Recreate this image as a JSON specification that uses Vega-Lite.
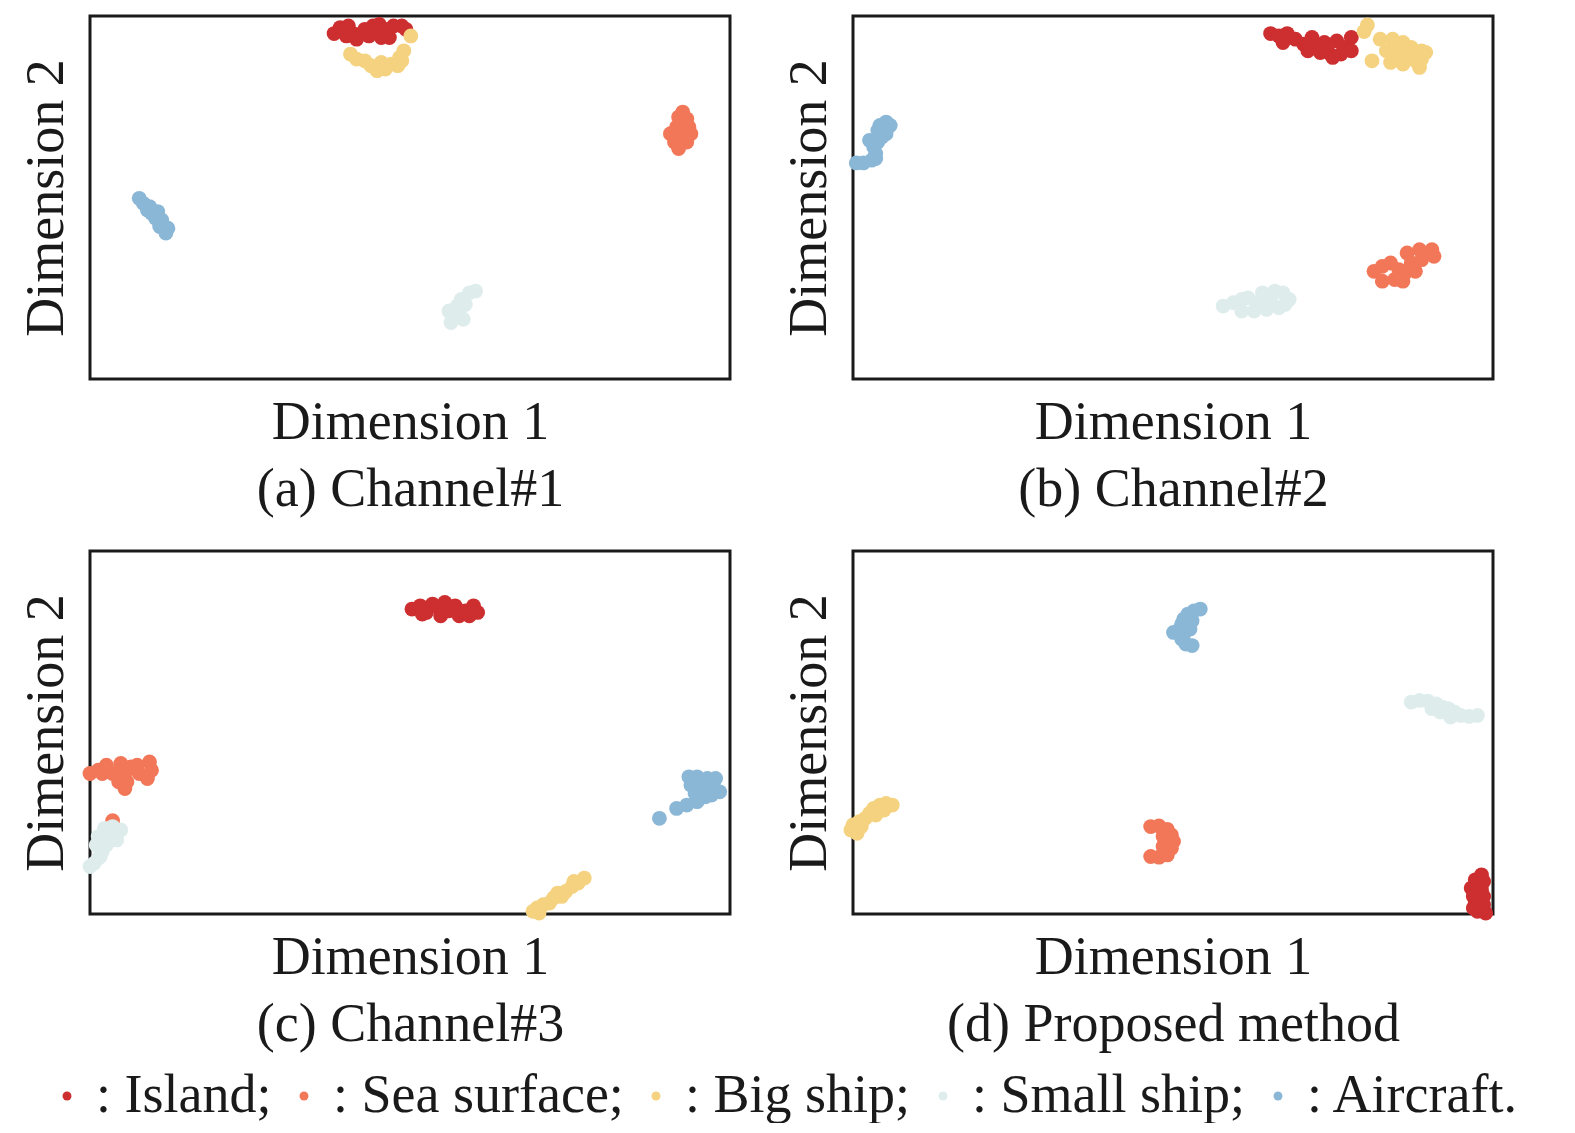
{
  "$schema": "https://vega.github.io/schema/vega-lite/v6.json",
  "padding": {"left": 17, "top": 14, "right": 0, "bottom": 0},
  "background": "white",
  "datasets": {
    "pts": [
      {"p":"a","c":"Island","x":244.1,"y":17.6},{"p":"a","c":"Island","x":250.2,"y":11.6},{"p":"a","c":"Island","x":258.4,"y":9.9},{"p":"a","c":"Island","x":264.6,"y":18.2},{"p":"a","c":"Island","x":266.6,"y":23.2},{"p":"a","c":"Island","x":274.8,"y":13.3},{"p":"a","c":"Island","x":283.0,"y":9.9},{"p":"a","c":"Island","x":289.2,"y":8.3},{"p":"a","c":"Island","x":295.3,"y":13.3},{"p":"a","c":"Island","x":299.4,"y":21.5},{"p":"a","c":"Island","x":291.2,"y":21.5},{"p":"a","c":"Island","x":303.5,"y":9.9},{"p":"a","c":"Island","x":311.8,"y":9.9},{"p":"a","c":"Island","x":315.9,"y":13.3},{"p":"a","c":"Island","x":278.9,"y":19.9},{"p":"a","c":"Island","x":256.4,"y":19.9},
      {"p":"a","c":"Big ship","x":320.8,"y":19.9},{"p":"a","c":"Big ship","x":260.5,"y":38.1},{"p":"a","c":"Big ship","x":266.6,"y":43.1},{"p":"a","c":"Big ship","x":274.8,"y":44.8},{"p":"a","c":"Big ship","x":281.0,"y":49.7},{"p":"a","c":"Big ship","x":287.1,"y":54.7},{"p":"a","c":"Big ship","x":295.3,"y":53.0},{"p":"a","c":"Big ship","x":301.5,"y":48.1},{"p":"a","c":"Big ship","x":307.7,"y":49.7},{"p":"a","c":"Big ship","x":309.7,"y":41.4},{"p":"a","c":"Big ship","x":313.8,"y":34.8},{"p":"a","c":"Big ship","x":311.8,"y":44.8},{"p":"a","c":"Big ship","x":291.2,"y":46.4},
      {"p":"a","c":"Sea surface","x":592.7,"y":96.1},{"p":"a","c":"Sea surface","x":588.6,"y":101.1},{"p":"a","c":"Sea surface","x":596.8,"y":102.8},{"p":"a","c":"Sea surface","x":586.6,"y":111.1},{"p":"a","c":"Sea surface","x":598.9,"y":111.1},{"p":"a","c":"Sea surface","x":592.7,"y":107.7},{"p":"a","c":"Sea surface","x":580.4,"y":117.7},{"p":"a","c":"Sea surface","x":590.7,"y":119.3},{"p":"a","c":"Sea surface","x":600.9,"y":117.7},{"p":"a","c":"Sea surface","x":584.5,"y":126.0},{"p":"a","c":"Sea surface","x":596.8,"y":126.0},{"p":"a","c":"Sea surface","x":588.6,"y":132.6},{"p":"a","c":"Sea surface","x":590.7,"y":127.6},
      {"p":"a","c":"Aircraft","x":49.2,"y":182.3},{"p":"a","c":"Aircraft","x":53.3,"y":187.3},{"p":"a","c":"Aircraft","x":59.5,"y":190.6},{"p":"a","c":"Aircraft","x":61.5,"y":197.2},{"p":"a","c":"Aircraft","x":67.7,"y":195.6},{"p":"a","c":"Aircraft","x":65.6,"y":202.2},{"p":"a","c":"Aircraft","x":71.8,"y":203.9},{"p":"a","c":"Aircraft","x":69.7,"y":210.5},{"p":"a","c":"Aircraft","x":77.9,"y":212.2},{"p":"a","c":"Aircraft","x":75.9,"y":217.1},{"p":"a","c":"Aircraft","x":57.4,"y":193.9},
      {"p":"a","c":"Small ship","x":385.6,"y":275.1},{"p":"a","c":"Small ship","x":379.4,"y":276.8},{"p":"a","c":"Small ship","x":371.2,"y":283.4},{"p":"a","c":"Small ship","x":375.3,"y":288.4},{"p":"a","c":"Small ship","x":367.1,"y":290.1},{"p":"a","c":"Small ship","x":358.9,"y":295.0},{"p":"a","c":"Small ship","x":363.0,"y":300.0},{"p":"a","c":"Small ship","x":361.0,"y":306.6},{"p":"a","c":"Small ship","x":373.3,"y":303.3},{"p":"a","c":"Small ship","x":369.2,"y":296.7},

      {"p":"b","c":"Island","x":417.6,"y":17.6},{"p":"b","c":"Island","x":425.9,"y":19.9},{"p":"b","c":"Island","x":434.2,"y":17.6},{"p":"b","c":"Island","x":430.0,"y":26.5},{"p":"b","c":"Island","x":442.4,"y":23.2},{"p":"b","c":"Island","x":450.7,"y":28.2},{"p":"b","c":"Island","x":459.0,"y":21.5},{"p":"b","c":"Island","x":463.1,"y":31.5},{"p":"b","c":"Island","x":471.4,"y":26.5},{"p":"b","c":"Island","x":475.5,"y":36.5},{"p":"b","c":"Island","x":483.8,"y":24.9},{"p":"b","c":"Island","x":487.9,"y":38.1},{"p":"b","c":"Island","x":492.1,"y":31.5},{"p":"b","c":"Island","x":498.3,"y":21.5},{"p":"b","c":"Island","x":498.3,"y":34.8},{"p":"b","c":"Island","x":454.9,"y":34.8},{"p":"b","c":"Island","x":467.3,"y":36.5},{"p":"b","c":"Island","x":479.7,"y":41.4},
      {"p":"b","c":"Big ship","x":511.1,"y":15.6},{"p":"b","c":"Big ship","x":514.4,"y":9.0},{"p":"b","c":"Big ship","x":519.0,"y":44.8},{"p":"b","c":"Big ship","x":527.2,"y":23.2},{"p":"b","c":"Big ship","x":539.6,"y":23.2},{"p":"b","c":"Big ship","x":550.0,"y":26.5},{"p":"b","c":"Big ship","x":533.4,"y":34.8},{"p":"b","c":"Big ship","x":545.8,"y":33.2},{"p":"b","c":"Big ship","x":558.2,"y":31.5},{"p":"b","c":"Big ship","x":568.6,"y":34.8},{"p":"b","c":"Big ship","x":572.7,"y":36.5},{"p":"b","c":"Big ship","x":537.6,"y":46.4},{"p":"b","c":"Big ship","x":550.0,"y":48.1},{"p":"b","c":"Big ship","x":566.5,"y":51.4},{"p":"b","c":"Big ship","x":568.6,"y":43.1},{"p":"b","c":"Big ship","x":554.1,"y":39.8},{"p":"b","c":"Big ship","x":541.7,"y":41.4},{"p":"b","c":"Big ship","x":562.4,"y":44.8},
      {"p":"b","c":"Aircraft","x":3.3,"y":146.9},{"p":"b","c":"Aircraft","x":10.3,"y":146.9},{"p":"b","c":"Aircraft","x":18.6,"y":144.2},{"p":"b","c":"Aircraft","x":22.7,"y":137.6},{"p":"b","c":"Aircraft","x":20.7,"y":130.9},{"p":"b","c":"Aircraft","x":16.5,"y":124.3},{"p":"b","c":"Aircraft","x":24.8,"y":126.0},{"p":"b","c":"Aircraft","x":28.9,"y":121.0},{"p":"b","c":"Aircraft","x":24.8,"y":114.4},{"p":"b","c":"Aircraft","x":31.0,"y":111.1},{"p":"b","c":"Aircraft","x":37.2,"y":109.4},{"p":"b","c":"Aircraft","x":33.1,"y":106.1},{"p":"b","c":"Aircraft","x":26.9,"y":109.4},{"p":"b","c":"Aircraft","x":33.1,"y":117.7},{"p":"b","c":"Aircraft","x":22.7,"y":142.5},
      {"p":"b","c":"Sea surface","x":521.0,"y":255.3},{"p":"b","c":"Sea surface","x":529.3,"y":250.3},{"p":"b","c":"Sea surface","x":537.6,"y":247.0},{"p":"b","c":"Sea surface","x":545.8,"y":253.6},{"p":"b","c":"Sea surface","x":529.3,"y":265.2},{"p":"b","c":"Sea surface","x":541.7,"y":263.5},{"p":"b","c":"Sea surface","x":552.0,"y":256.9},{"p":"b","c":"Sea surface","x":558.2,"y":247.0},{"p":"b","c":"Sea surface","x":554.1,"y":237.0},{"p":"b","c":"Sea surface","x":566.5,"y":233.7},{"p":"b","c":"Sea surface","x":578.9,"y":233.7},{"p":"b","c":"Sea surface","x":581.0,"y":240.3},{"p":"b","c":"Sea surface","x":568.6,"y":243.7},{"p":"b","c":"Sea surface","x":562.4,"y":255.3},{"p":"b","c":"Sea surface","x":549.9,"y":265.2},
      {"p":"b","c":"Small ship","x":370.1,"y":290.1},{"p":"b","c":"Small ship","x":380.4,"y":286.7},{"p":"b","c":"Small ship","x":388.7,"y":295.0},{"p":"b","c":"Small ship","x":394.9,"y":281.8},{"p":"b","c":"Small ship","x":405.2,"y":286.7},{"p":"b","c":"Small ship","x":409.4,"y":276.8},{"p":"b","c":"Small ship","x":417.6,"y":283.4},{"p":"b","c":"Small ship","x":421.8,"y":275.1},{"p":"b","c":"Small ship","x":430.0,"y":276.8},{"p":"b","c":"Small ship","x":436.2,"y":283.4},{"p":"b","c":"Small ship","x":425.9,"y":291.7},{"p":"b","c":"Small ship","x":413.5,"y":293.4},{"p":"b","c":"Small ship","x":401.1,"y":295.0},{"p":"b","c":"Small ship","x":388.7,"y":283.4},{"p":"b","c":"Small ship","x":432.1,"y":288.4},

      {"p":"c","c":"Island","x":322.0,"y":58.1},{"p":"c","c":"Island","x":330.2,"y":54.8},{"p":"c","c":"Island","x":336.4,"y":61.4},{"p":"c","c":"Island","x":342.5,"y":53.1},{"p":"c","c":"Island","x":348.7,"y":56.5},{"p":"c","c":"Island","x":354.8,"y":51.5},{"p":"c","c":"Island","x":358.9,"y":59.8},{"p":"c","c":"Island","x":365.1,"y":54.8},{"p":"c","c":"Island","x":350.7,"y":64.8},{"p":"c","c":"Island","x":369.2,"y":64.8},{"p":"c","c":"Island","x":375.3,"y":59.8},{"p":"c","c":"Island","x":383.5,"y":54.8},{"p":"c","c":"Island","x":387.6,"y":61.4},{"p":"c","c":"Island","x":379.4,"y":64.8},{"p":"c","c":"Island","x":332.3,"y":63.1},
      {"p":"c","c":"Sea surface","x":0.0,"y":222.5},{"p":"c","c":"Sea surface","x":8.2,"y":219.2},{"p":"c","c":"Sea surface","x":16.4,"y":214.2},{"p":"c","c":"Sea surface","x":22.6,"y":222.5},{"p":"c","c":"Sea surface","x":30.8,"y":212.5},{"p":"c","c":"Sea surface","x":34.9,"y":222.5},{"p":"c","c":"Sea surface","x":41.0,"y":215.9},{"p":"c","c":"Sea surface","x":47.2,"y":214.2},{"p":"c","c":"Sea surface","x":59.5,"y":210.9},{"p":"c","c":"Sea surface","x":61.5,"y":219.2},{"p":"c","c":"Sea surface","x":57.4,"y":227.5},{"p":"c","c":"Sea surface","x":28.7,"y":230.8},{"p":"c","c":"Sea surface","x":36.9,"y":230.8},{"p":"c","c":"Sea surface","x":34.9,"y":237.5},{"p":"c","c":"Sea surface","x":12.3,"y":222.5},{"p":"c","c":"Sea surface","x":49.2,"y":222.5},{"p":"c","c":"Sea surface","x":22.6,"y":269.7},
      {"p":"c","c":"Small ship","x":14.4,"y":277.3},{"p":"c","c":"Small ship","x":22.6,"y":275.6},{"p":"c","c":"Small ship","x":30.8,"y":279.0},{"p":"c","c":"Small ship","x":8.2,"y":285.6},{"p":"c","c":"Small ship","x":18.5,"y":283.9},{"p":"c","c":"Small ship","x":26.7,"y":288.9},{"p":"c","c":"Small ship","x":6.2,"y":293.9},{"p":"c","c":"Small ship","x":16.4,"y":293.9},{"p":"c","c":"Small ship","x":12.3,"y":300.6},{"p":"c","c":"Small ship","x":8.2,"y":307.2},{"p":"c","c":"Small ship","x":4.1,"y":312.2},{"p":"c","c":"Small ship","x":0.0,"y":315.5},{"p":"c","c":"Small ship","x":10.3,"y":305.5},
      {"p":"c","c":"Aircraft","x":598.9,"y":225.8},{"p":"c","c":"Aircraft","x":607.1,"y":225.8},{"p":"c","c":"Aircraft","x":617.4,"y":227.5},{"p":"c","c":"Aircraft","x":625.6,"y":227.5},{"p":"c","c":"Aircraft","x":600.9,"y":234.1},{"p":"c","c":"Aircraft","x":611.2,"y":235.8},{"p":"c","c":"Aircraft","x":623.5,"y":235.8},{"p":"c","c":"Aircraft","x":629.7,"y":240.8},{"p":"c","c":"Aircraft","x":605.1,"y":242.4},{"p":"c","c":"Aircraft","x":615.3,"y":245.8},{"p":"c","c":"Aircraft","x":621.5,"y":244.1},{"p":"c","c":"Aircraft","x":607.1,"y":250.7},{"p":"c","c":"Aircraft","x":596.8,"y":254.1},{"p":"c","c":"Aircraft","x":586.6,"y":257.4},{"p":"c","c":"Aircraft","x":569.4,"y":267.3},
      {"p":"c","c":"Big ship","x":494.3,"y":327.1},{"p":"c","c":"Big ship","x":488.1,"y":332.1},{"p":"c","c":"Big ship","x":482.0,"y":335.4},{"p":"c","c":"Big ship","x":475.8,"y":340.4},{"p":"c","c":"Big ship","x":471.7,"y":345.4},{"p":"c","c":"Big ship","x":463.5,"y":347.0},{"p":"c","c":"Big ship","x":459.4,"y":352.0},{"p":"c","c":"Big ship","x":453.3,"y":353.7},{"p":"c","c":"Big ship","x":447.1,"y":357.0},{"p":"c","c":"Big ship","x":443.0,"y":360.3},{"p":"c","c":"Big ship","x":449.1,"y":362.0},{"p":"c","c":"Big ship","x":467.6,"y":342.1},{"p":"c","c":"Big ship","x":484.0,"y":330.4},

      {"p":"d","c":"Aircraft","x":347.3,"y":58.1},{"p":"d","c":"Aircraft","x":341.1,"y":59.8},{"p":"d","c":"Aircraft","x":334.9,"y":63.1},{"p":"d","c":"Aircraft","x":330.8,"y":68.1},{"p":"d","c":"Aircraft","x":328.7,"y":73.1},{"p":"d","c":"Aircraft","x":326.7,"y":78.0},{"p":"d","c":"Aircraft","x":320.5,"y":81.4},{"p":"d","c":"Aircraft","x":330.8,"y":83.0},{"p":"d","c":"Aircraft","x":328.7,"y":88.0},{"p":"d","c":"Aircraft","x":332.9,"y":93.0},{"p":"d","c":"Aircraft","x":339.1,"y":94.6},{"p":"d","c":"Aircraft","x":337.0,"y":78.0},{"p":"d","c":"Aircraft","x":339.1,"y":69.7},
      {"p":"d","c":"Small ship","x":558.2,"y":151.1},{"p":"d","c":"Small ship","x":566.5,"y":149.4},{"p":"d","c":"Small ship","x":574.8,"y":150.1},{"p":"d","c":"Small ship","x":583.0,"y":152.8},{"p":"d","c":"Small ship","x":589.2,"y":156.1},{"p":"d","c":"Small ship","x":595.4,"y":157.7},{"p":"d","c":"Small ship","x":601.6,"y":161.1},{"p":"d","c":"Small ship","x":607.8,"y":164.4},{"p":"d","c":"Small ship","x":616.1,"y":165.4},{"p":"d","c":"Small ship","x":624.4,"y":164.4},{"p":"d","c":"Small ship","x":597.5,"y":166.1},{"p":"d","c":"Small ship","x":587.2,"y":161.1},{"p":"d","c":"Small ship","x":578.9,"y":157.7},
      {"p":"d","c":"Big ship","x":39.3,"y":254.1},{"p":"d","c":"Big ship","x":33.1,"y":252.4},{"p":"d","c":"Big ship","x":26.9,"y":254.1},{"p":"d","c":"Big ship","x":20.7,"y":257.4},{"p":"d","c":"Big ship","x":16.5,"y":262.4},{"p":"d","c":"Big ship","x":12.4,"y":267.3},{"p":"d","c":"Big ship","x":6.2,"y":270.7},{"p":"d","c":"Big ship","x":0.0,"y":274.0},{"p":"d","c":"Big ship","x":-2.1,"y":279.0},{"p":"d","c":"Big ship","x":4.1,"y":282.3},{"p":"d","c":"Big ship","x":8.3,"y":275.6},{"p":"d","c":"Big ship","x":22.7,"y":264.0},{"p":"d","c":"Big ship","x":31.0,"y":259.0},
      {"p":"d","c":"Sea surface","x":297.7,"y":275.6},{"p":"d","c":"Sea surface","x":306.0,"y":275.0},{"p":"d","c":"Sea surface","x":314.3,"y":278.3},{"p":"d","c":"Sea surface","x":318.4,"y":283.9},{"p":"d","c":"Sea surface","x":320.5,"y":290.6},{"p":"d","c":"Sea surface","x":318.4,"y":297.2},{"p":"d","c":"Sea surface","x":314.3,"y":303.9},{"p":"d","c":"Sea surface","x":306.0,"y":306.2},{"p":"d","c":"Sea surface","x":297.7,"y":305.5},{"p":"d","c":"Sea surface","x":310.1,"y":285.6},{"p":"d","c":"Sea surface","x":310.1,"y":295.6},{"p":"d","c":"Sea surface","x":312.2,"y":290.6},
      {"p":"d","c":"Island","x":628.5,"y":323.8},{"p":"d","c":"Island","x":622.3,"y":328.8},{"p":"d","c":"Island","x":630.6,"y":330.4},{"p":"d","c":"Island","x":618.2,"y":337.1},{"p":"d","c":"Island","x":628.5,"y":338.7},{"p":"d","c":"Island","x":620.3,"y":345.4},{"p":"d","c":"Island","x":630.6,"y":345.4},{"p":"d","c":"Island","x":622.3,"y":352.0},{"p":"d","c":"Island","x":630.6,"y":353.7},{"p":"d","c":"Island","x":624.4,"y":360.3},{"p":"d","c":"Island","x":632.7,"y":362.0},{"p":"d","c":"Island","x":620.3,"y":357.0}
    ]
  },
  "data": {"name": "pts"},
  "spacing": 31,
  "vconcat": [
    {
      "spacing": 48,
      "hconcat": [
        {
          "width": 640, "height": 363,
          "transform": [{"filter": "datum.p == 'a'"}],
          "mark": {"type": "circle", "size": 220, "opacity": 1},
          "encoding": {
            "x": {"field": "x", "type": "quantitative", "scale": {"domain": [0, 640], "nice": false, "zero": false}, "axis": {"title": ["Dimension 1", "(a) Channel#1"]}},
            "y": {"field": "y", "type": "quantitative", "scale": {"domain": [0, 363], "nice": false, "zero": false, "reverse": true}, "axis": {"title": "Dimension 2"}},
            "color": {"field": "c", "type": "nominal", "scale": {"domain": ["Island", "Sea surface", "Big ship", "Small ship", "Aircraft"], "range": ["#cd2e2f", "#f27758", "#f5d27f", "#deedec", "#8bb7d7"]},
              "legend": {"orient": "none", "legendX": -50, "legendY": 1053, "direction": "horizontal", "title": null, "labelExpr": "': ' + datum.label + (datum.label == 'Aircraft' ? '.' : ';')"}}
          }
        },
        {
          "width": 640, "height": 363,
          "transform": [{"filter": "datum.p == 'b'"}],
          "mark": {"type": "circle", "size": 220, "opacity": 1},
          "encoding": {
            "x": {"field": "x", "type": "quantitative", "scale": {"domain": [0, 640], "nice": false, "zero": false}, "axis": {"title": ["Dimension 1", "(b) Channel#2"]}},
            "y": {"field": "y", "type": "quantitative", "scale": {"domain": [0, 363], "nice": false, "zero": false, "reverse": true}, "axis": {"title": "Dimension 2"}},
            "color": {"field": "c", "type": "nominal"}
          }
        }
      ]
    },
    {
      "spacing": 48,
      "hconcat": [
        {
          "width": 640, "height": 363,
          "transform": [{"filter": "datum.p == 'c'"}],
          "mark": {"type": "circle", "size": 220, "opacity": 1},
          "encoding": {
            "x": {"field": "x", "type": "quantitative", "scale": {"domain": [0, 640], "nice": false, "zero": false}, "axis": {"title": ["Dimension 1", "(c) Channel#3"]}},
            "y": {"field": "y", "type": "quantitative", "scale": {"domain": [0, 363], "nice": false, "zero": false, "reverse": true}, "axis": {"title": "Dimension 2"}},
            "color": {"field": "c", "type": "nominal"}
          }
        },
        {
          "width": 640, "height": 363,
          "transform": [{"filter": "datum.p == 'd'"}],
          "mark": {"type": "circle", "size": 220, "opacity": 1},
          "encoding": {
            "x": {"field": "x", "type": "quantitative", "scale": {"domain": [0, 640], "nice": false, "zero": false}, "axis": {"title": ["Dimension 1", "(d) Proposed method"]}},
            "y": {"field": "y", "type": "quantitative", "scale": {"domain": [0, 363], "nice": false, "zero": false, "reverse": true}, "axis": {"title": "Dimension 2"}},
            "color": {"field": "c", "type": "nominal"}
          }
        }
      ]
    }
  ],
  "config": {
    "view": {"stroke": "#1a1a1a", "strokeWidth": 3},
    "axis": {"domain": false, "ticks": false, "labels": false, "grid": false, "titleFont": "Liberation Serif", "titleFontSize": 54, "titleFontWeight": "normal", "titleColor": "#1a1a1a", "titleLineHeight": 67},
    "axisX": {"titlePadding": 16},
    "axisY": {"titlePadding": 17},
    "legend": {"labelFont": "Liberation Serif", "labelFontSize": 54, "labelColor": "#1a1a1a", "labelLimit": 0, "symbolType": "circle", "symbolSize": 80, "symbolStrokeWidth": 0, "labelOffset": 2, "columnPadding": 5, "symbolOpacity": 1, "gridAlign": "none"}
  }
}
